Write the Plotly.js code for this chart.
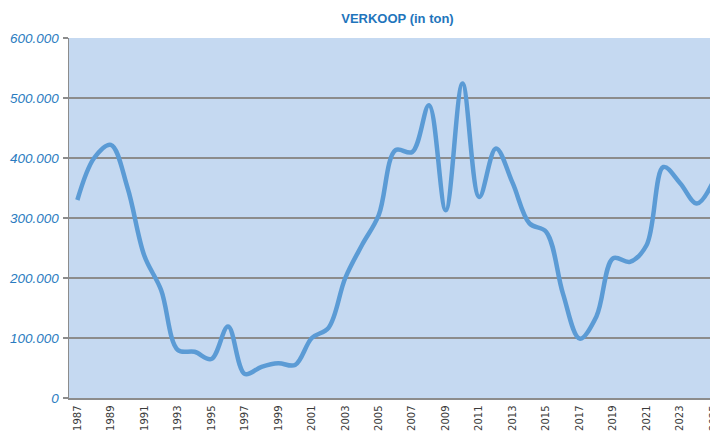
<!DOCTYPE html>
<html>
<head>
<meta charset="utf-8">
<script src="https://cdn.plot.ly/plotly-3.0.1.min.js"></script>
<style>
html,body{margin:0;padding:0;overflow:hidden;background:#fff;}
#chart{width:724px;height:432px;}
</style>
</head>
<body>
<div id="chart"></div>
<script>
var years = [1987,1988,1989,1990,1991,1992,1993,1994,1995,1996,1997,1998,1999,2000,2001,2002,2003,2004,2005,2006,2007,2008,2009,2010,2011,2012,2013,2014,2015,2016,2017,2018,2019,2020,2021,2022,2023,2024,2025];
var verkoop = [330000,400000,422000,350000,237000,180000,80000,77000,65000,119000,40000,52000,58000,55000,100000,117000,200000,255000,305000,413000,410000,488000,313000,524000,335000,416000,358000,291000,277000,174000,99000,136000,233000,227000,255000,385000,358000,324000,362000];
var yTicks = [0,100000,200000,300000,400000,500000,600000];
var xTicks = [1987,1989,1991,1993,1995,1997,1999,2001,2003,2005,2007,2009,2011,2013,2015,2017,2019,2021,2023,2025];

var trace = {
  x: years,
  y: verkoop,
  type: 'scatter',
  mode: 'lines',
  line: {color: '#5b9bd5', width: 4.5, shape: 'spline', smoothing: 1},
  hoverinfo: 'x+y'
};

var layout = {
  width: 724,
  height: 432,
  separators: ',.',
  margin: {l: 68.6, r: 2, t: 37.5, b: 34},
  paper_bgcolor: '#ffffff',
  plot_bgcolor: '#c5d9f1',
  showlegend: false,
  title: {
    text: 'VERKOOP (in ton)',
    font: {family: 'Liberation Sans, Arial, sans-serif', size: 13, color: '#1f75bc', weight: 'bold'},
    x: 0.549, xref: 'container', xanchor: 'center',
    y: 0.958, yref: 'container', yanchor: 'middle'
  },
  xaxis: {
    range: [1986.5, 2025.5],
    tickmode: 'array',
    tickvals: xTicks,
    ticktext: xTicks.map(String),
    tickangle: -90,
    ticks: '',
    showgrid: false,
    zeroline: false,
    showline: true,
    linecolor: '#8c8c8c',
    linewidth: 1.5,
    tickfont: {family: 'DejaVu Sans, sans-serif', size: 10, color: '#3a3a3a'},
    ticklabelstandoff: 2,
    fixedrange: true
  },
  yaxis: {
    range: [0, 600000],
    tickmode: 'array',
    tickvals: yTicks,
    ticktext: yTicks.map(function(v){ return v === 0 ? '0' : (v/1000) + '.000'; }),
    ticks: 'outside',
    ticklen: 5,
    tickcolor: '#8c8c8c',
    tickwidth: 1.5,
    showgrid: true,
    gridcolor: '#8c8c8c',
    gridwidth: 1.3,
    zeroline: false,
    showline: true,
    linecolor: '#8c8c8c',
    linewidth: 1.5,
    tickfont: {family: 'Liberation Sans, Arial, sans-serif', size: 13.5, color: '#2a7bc0', style: 'italic'},
    ticklabelstandoff: 1,
    fixedrange: true
  }
};

Plotly.newPlot('chart', [trace], layout, {displayModeBar: false, staticPlot: true});
</script>
</body>
</html>
